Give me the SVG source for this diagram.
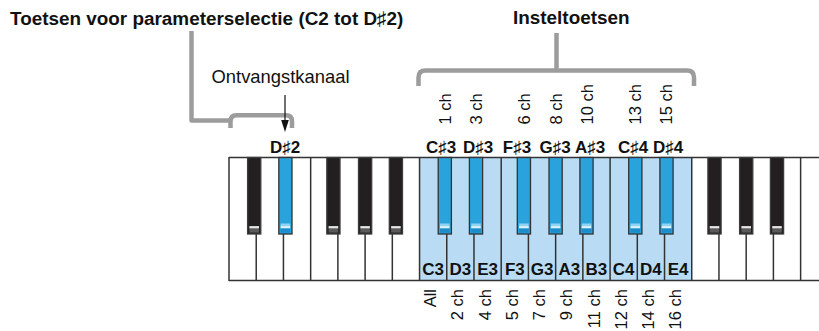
<svg xmlns="http://www.w3.org/2000/svg" xmlns:xlink="http://www.w3.org/1999/xlink" width="819" height="331" viewBox="0 0 819 331">
  <style>
    .t { font-family: "Liberation Sans", Arial, sans-serif; fill: #111; }
    .title { font-size: 18.9px; font-weight: bold; }
    .sub { font-size: 18.4px; }
    .nl { font-size: 17px; font-weight: bold; text-anchor: middle; }
    .ch { font-size: 16.5px; }
    .br { fill: none; stroke: #9c9c9c; stroke-width: 4.5; stroke-linejoin: round; }
    .sep { stroke: #333; stroke-width: 1.5; }
  </style>
  <defs>
    <g id="bk">
      <rect x="0.6" y="0" width="13.2" height="76.5" fill="#231f20" stroke="#3c3c3c" stroke-width="1.3"/>
      <rect x="2.4" y="70.5" width="9.6" height="4.6" fill="#5a5a5a"/>
      <rect x="2.4" y="68.6" width="9.6" height="2.2" fill="#e6e6e6"/>
    </g>
    <g id="bkb">
      <rect x="0.6" y="0" width="13.2" height="76.5" fill="#2aa3dd" stroke="#333" stroke-width="1.3"/>
      <rect x="2.4" y="66" width="9.6" height="2.6" fill="#8fd2f2"/>
      <rect x="2.4" y="70.5" width="9.6" height="4.6" fill="#1b8dcc"/>
      <rect x="2.4" y="68.6" width="9.6" height="2.2" fill="#dff3fc"/>
    </g>
  </defs>

  <!-- Titles -->
  <text class="t title" x="10" y="24.5">Toetsen voor parameterselectie (C2 tot D♯2)</text>
  <text class="t title" x="513" y="24">Insteltoetsen</text>
  <text class="t sub" x="211.5" y="83">Ontvangstkanaal</text>

  <!-- Connectors -->
  <g id="connectors">
    <path class="br" d="M191.5,31 V120.5 H230.5"/>
    <path class="br" d="M230.5,128 V121.5 Q230.5,115.3 236.5,115.3 H286 Q292,115.3 292,121.5 V128"/>
    <path class="br" d="M556.5,33 V70.5"/>
    <path class="br" d="M418.5,86 V77.5 Q418.5,70.5 425.5,70.5 H687 Q694,70.5 694,77.5 V86"/>
    <line x1="285" y1="95" x2="285" y2="121" stroke="#111" stroke-width="1.2"/>
    <polygon points="281.2,120 288.8,120 285,132" fill="#111"/>
  </g>

  <!-- Keyboard -->
  <g id="keyboard">
    <rect x="229" y="157.5" width="600" height="123" fill="#fff"/>
    <rect x="419.54" y="157.5" width="272.2" height="123" fill="#b9dcf4"/>
    <g class="sep">
      <line x1="229" y1="157.5" x2="819" y2="157.5"/>
      <line x1="229" y1="280.5" x2="819" y2="280.5"/>
      <line x1="229" y1="157" x2="229" y2="281"/>
      <line x1="256.22" y1="234" x2="256.22" y2="280.5"/>
      <line x1="283.44" y1="234" x2="283.44" y2="280.5"/>
      <line x1="310.66" y1="157.5" x2="310.66" y2="280.5"/>
      <line x1="337.88" y1="234" x2="337.88" y2="280.5"/>
      <line x1="365.1" y1="234" x2="365.1" y2="280.5"/>
      <line x1="392.32" y1="234" x2="392.32" y2="280.5"/>
      <line x1="419.54" y1="157.5" x2="419.54" y2="280.5"/>
      <line x1="446.76" y1="234" x2="446.76" y2="280.5"/>
      <line x1="473.98" y1="234" x2="473.98" y2="280.5"/>
      <line x1="501.2" y1="157.5" x2="501.2" y2="280.5"/>
      <line x1="528.42" y1="234" x2="528.42" y2="280.5"/>
      <line x1="555.64" y1="234" x2="555.64" y2="280.5"/>
      <line x1="582.86" y1="234" x2="582.86" y2="280.5"/>
      <line x1="610.08" y1="157.5" x2="610.08" y2="280.5"/>
      <line x1="637.3" y1="234" x2="637.3" y2="280.5"/>
      <line x1="664.52" y1="234" x2="664.52" y2="280.5"/>
      <line x1="691.74" y1="157.5" x2="691.74" y2="280.5"/>
      <line x1="718.96" y1="234" x2="718.96" y2="280.5"/>
      <line x1="746.18" y1="234" x2="746.18" y2="280.5"/>
      <line x1="773.4" y1="234" x2="773.4" y2="280.5"/>
      <line x1="800.62" y1="157.5" x2="800.62" y2="280.5"/>
    </g>
    <use xlink:href="#bk" x="247.0" y="157.5"/>
    <use xlink:href="#bkb" x="278.2" y="157.5"/>
    <use xlink:href="#bk" x="326.2" y="157.5"/>
    <use xlink:href="#bk" x="357.9" y="157.5"/>
    <use xlink:href="#bk" x="388.7" y="157.5"/>
    <use xlink:href="#bkb" x="437.6" y="157.5"/>
    <use xlink:href="#bkb" x="468.8" y="157.5"/>
    <use xlink:href="#bkb" x="516.7" y="157.5"/>
    <use xlink:href="#bkb" x="548.4" y="157.5"/>
    <use xlink:href="#bkb" x="579.3" y="157.5"/>
    <use xlink:href="#bkb" x="628.1" y="157.5"/>
    <use xlink:href="#bkb" x="659.3" y="157.5"/>
    <use xlink:href="#bk" x="707.3" y="157.5"/>
    <use xlink:href="#bk" x="739.0" y="157.5"/>
    <use xlink:href="#bk" x="769.8" y="157.5"/>
  </g>

  <g id="top-notes">
    <text class="t nl" x="285" y="152.5">D♯2</text>
    <text class="t nl" x="441" y="152.5">C♯3</text>
    <text class="t nl" x="478" y="152.5">D♯3</text>
    <text class="t nl" x="517" y="152.5">F♯3</text>
    <text class="t nl" x="555" y="152.5">G♯3</text>
    <text class="t nl" x="590" y="152.5">A♯3</text>
    <text class="t nl" x="633" y="152.5">C♯4</text>
    <text class="t nl" x="668" y="152.5">D♯4</text>
  </g>

  <g id="bottom-notes">
    <text class="t nl" x="433.15" y="275">C3</text>
    <text class="t nl" x="460.37" y="275">D3</text>
    <text class="t nl" x="487.59" y="275">E3</text>
    <text class="t nl" x="514.81" y="275">F3</text>
    <text class="t nl" x="542.03" y="275">G3</text>
    <text class="t nl" x="569.25" y="275">A3</text>
    <text class="t nl" x="596.47" y="275">B3</text>
    <text class="t nl" x="623.69" y="275">C4</text>
    <text class="t nl" x="650.91" y="275">D4</text>
    <text class="t nl" x="678.13" y="275">E4</text>
  </g>

  <g id="top-ch">
    <text class="t ch" transform="translate(450.5,124.5) rotate(-90)">1 ch</text>
    <text class="t ch" transform="translate(482,124.5) rotate(-90)">3 ch</text>
    <text class="t ch" transform="translate(529.5,124.5) rotate(-90)">6 ch</text>
    <text class="t ch" transform="translate(561.5,124.5) rotate(-90)">8 ch</text>
    <text class="t ch" transform="translate(592.5,124.5) rotate(-90)">10 ch</text>
    <text class="t ch" transform="translate(641,124.5) rotate(-90)">13 ch</text>
    <text class="t ch" transform="translate(671.5,124.5) rotate(-90)">15 ch</text>
  </g>

  <g id="bottom-ch" text-anchor="end">
    <text class="t ch" transform="translate(436.2,289) rotate(-90)">All</text>
    <text class="t ch" transform="translate(463.4,289) rotate(-90)">2 ch</text>
    <text class="t ch" transform="translate(490.6,289) rotate(-90)">4 ch</text>
    <text class="t ch" transform="translate(517.8,289) rotate(-90)">5 ch</text>
    <text class="t ch" transform="translate(545,289) rotate(-90)">7 ch</text>
    <text class="t ch" transform="translate(572.2,289) rotate(-90)">9 ch</text>
    <text class="t ch" transform="translate(599.5,289) rotate(-90)">11 ch</text>
    <text class="t ch" transform="translate(626.7,289) rotate(-90)">12 ch</text>
    <text class="t ch" transform="translate(653.9,289) rotate(-90)">14 ch</text>
    <text class="t ch" transform="translate(681.1,289) rotate(-90)">16 ch</text>
  </g>
</svg>
